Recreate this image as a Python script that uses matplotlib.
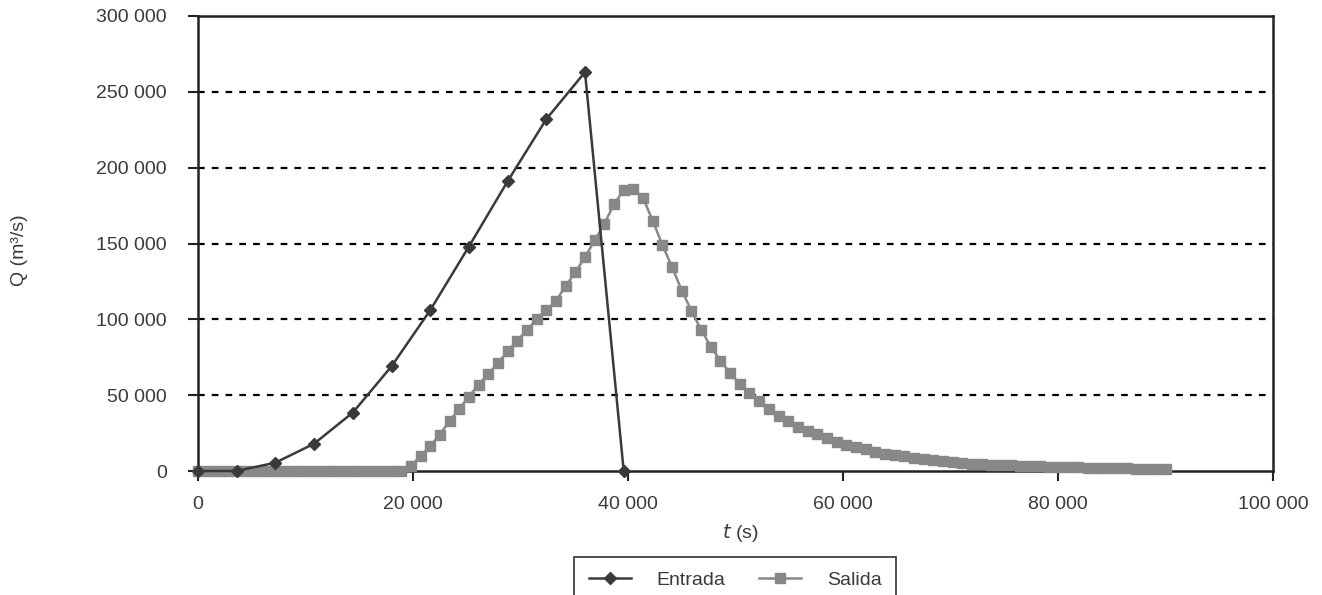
import numpy as np
import matplotlib.pyplot as plt
from matplotlib.ticker import FuncFormatter

# inflow hydrograph (Entrada), one value every 3600 s
t_entrada = [0, 3600, 7200, 10800, 14400, 18000, 21600, 25200, 28800, 32400, 36000, 39600]
q_entrada = [0, 0, 5500, 18000, 38500, 69000, 106000, 148000, 191000, 232000, 263000, 0]

# outflow hydrograph (Salida), one value every 900 s up to 90 000 s
t_salida = list(range(0, 90001, 900))
q_salida = [0] * 22 + [
    3300, 9900, 16500, 24000, 33000, 41000, 49000, 57000, 64000, 71000,
    79000, 86000, 93000, 100000, 106000, 112000, 122000, 131000, 141000, 152000,
    163000, 176000, 185000, 186000, 180000, 165000, 149000, 134500, 119000, 105700,
    93200, 82000, 72700, 64600, 57300, 51100, 46300, 40800, 36300, 32700,
    29100, 26200, 24200, 22000, 19400, 17200, 15900, 14300, 12800, 11400,
    10600, 9900, 8800, 7700, 7100, 6600, 5900, 5500, 4800, 4500,
    4200, 4000, 3700, 3500, 3300, 3100, 2900, 2700, 2500, 2400,
    2200, 2100, 1900, 1800, 1700, 1600, 1500, 1400, 1300,
]

plt.rcParams['font.family'] = ['Liberation Sans', 'DejaVu Sans']
text_color = '#3a3a3a'
fs = 14

fig = plt.figure(figsize=(13.22, 5.95), dpi=100)
ax = fig.add_axes([198 / 1322, 1 - 471 / 595, (1273 - 198) / 1322, (471 - 16) / 595])

# dashed horizontal grid
for yv in range(50000, 300000, 50000):
    ax.axhline(yv, color='black', lw=1.6, linestyle=(0, (3, 3.2)), zorder=1)

ax.plot(t_salida, q_salida, color='#888888', lw=1.8, marker='s', ms=6.5,
        mec='#888888', mfc='#888888', label='Salida', clip_on=False, zorder=3)
ax.plot(t_entrada, q_entrada, color='#3a3a3a', lw=1.8, marker='D', ms=6.5,
        mec='#3a3a3a', mfc='#3a3a3a', label='Entrada', clip_on=False, zorder=4)

ax.set_xlim(0, 100000)
ax.set_ylim(0, 300000)
ax.set_xticks(range(0, 100001, 20000))
ax.set_yticks(range(0, 300001, 50000))

fmt = FuncFormatter(lambda v, p: f"{int(v):,}".replace(",", " "))
ax.xaxis.set_major_formatter(fmt)
ax.yaxis.set_major_formatter(fmt)
ax.tick_params(axis='both', labelsize=fs, colors='#222222', labelcolor=text_color,
               width=1.5, length=7)
ax.tick_params(axis='y', pad=15.5)
ax.tick_params(axis='x', pad=11)

for s in ax.spines.values():
    s.set_color('#222222')
    s.set_linewidth(1.8)

fig.text(740 / 1322, 1 - 533 / 595, '$\\it{t}$ (s)', fontsize=fs, color=text_color,
         ha='center', va='center')
fig.text(20 / 1322, 1 - 250 / 595, 'Q (m³/s)', rotation=90, fontsize=fs,
         color=text_color, ha='center', va='center')

handles, labels = ax.get_legend_handles_labels()
leg = fig.legend(handles[::-1], labels[::-1], loc='upper center',
                 bbox_to_anchor=(735 / 1322, 1 - 557 / 595), ncol=2,
                 fontsize=fs, frameon=True, fancybox=False, edgecolor='black',
                 handlelength=2.2, handletextpad=1.3, columnspacing=1.7,
                 borderpad=0.75, borderaxespad=0, labelcolor=text_color)
leg.get_frame().set_linewidth(1.2)

fig.savefig('out.png', dpi=100)
